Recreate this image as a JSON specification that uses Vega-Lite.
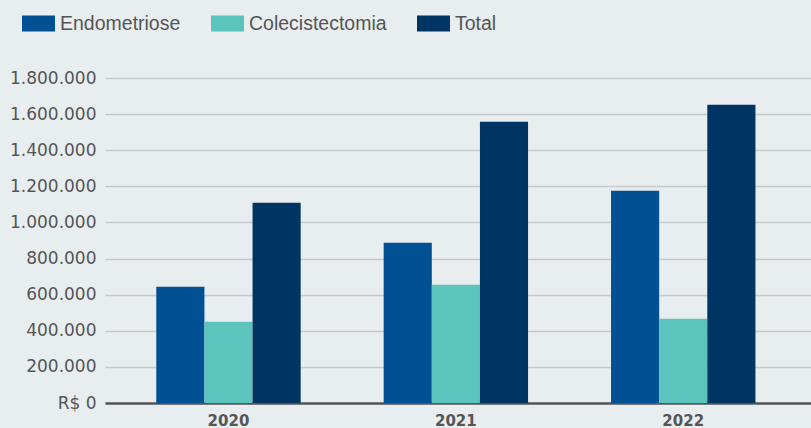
{
  "$schema": "https://vega.github.io/schema/vega-lite/v6.json",
  "width": 706,
  "height": 325,
  "autosize": "none",
  "padding": {"left": 105, "top": 78, "right": 0, "bottom": 25},
  "background": "#e8edf0",
  "config": {
    "view": {"stroke": null},
    "locale": {"number": {"decimal": ",", "thousands": ".", "grouping": [3], "currency": ["R$ ", ""]}}
  },
  "data": {
    "values": [
      {"ano": "2020", "tipo": "Endometriose", "valor": 644000},
      {"ano": "2020", "tipo": "Colecistectomia", "valor": 450000},
      {"ano": "2020", "tipo": "Total", "valor": 1109000},
      {"ano": "2021", "tipo": "Endometriose", "valor": 888000},
      {"ano": "2021", "tipo": "Colecistectomia", "valor": 655000},
      {"ano": "2021", "tipo": "Total", "valor": 1558000},
      {"ano": "2022", "tipo": "Endometriose", "valor": 1176000},
      {"ano": "2022", "tipo": "Colecistectomia", "valor": 467000},
      {"ano": "2022", "tipo": "Total", "valor": 1652000}
    ]
  },
  "mark": {"type": "bar"},
  "encoding": {
    "x": {
      "field": "ano",
      "type": "nominal",
      "title": null,
      "scale": {"paddingInner": 0.365, "paddingOuter": 0.235, "align": 0.48},
      "axis": {
        "labelAngle": 0,
        "labelFont": "DejaVu Sans",
        "labelFontSize": 15,
        "labelFontWeight": "bold",
        "labelColor": "#555555",
        "labelPadding": 10,
        "ticks": false,
        "domainColor": "#555555",
        "domainWidth": 2.5,
        "grid": false
      }
    },
    "xOffset": {
      "field": "tipo",
      "type": "nominal",
      "sort": ["Endometriose", "Colecistectomia", "Total"],
      "scale": {"paddingInner": 0, "paddingOuter": 0}
    },
    "y": {
      "field": "valor",
      "type": "quantitative",
      "title": null,
      "scale": {"domain": [0, 1800000], "nice": false},
      "axis": {
        "values": [0, 200000, 400000, 600000, 800000, 1000000, 1200000, 1400000, 1600000, 1800000],
        "labelExpr": "datum.value == 0 ? 'R$ 0' : format(datum.value, ',d')",
        "labelFont": "DejaVu Sans",
        "labelFontSize": 17,
        "labelColor": "#555555",
        "labelPadding": 9,
        "ticks": false,
        "domain": false,
        "gridColor": "#c6c9cc",
        "gridWidth": 1.5
      }
    },
    "color": {
      "field": "tipo",
      "type": "nominal",
      "sort": ["Endometriose", "Colecistectomia", "Total"],
      "scale": {"domain": ["Endometriose", "Colecistectomia", "Total"], "range": ["#005093", "#5bc4bd", "#003462"]},
      "legend": {
        "title": null,
        "orient": "none",
        "direction": "horizontal",
        "legendX": -83,
        "legendY": -71,
        "padding": 0,
        "symbolType": "M-1,-0.485H1V0.485H-1Z",
        "symbolSize": 1089,
        "symbolStrokeWidth": 0,
        "symbolOpacity": 1,
        "labelFont": "Liberation Sans",
        "labelFontSize": 19.5,
        "labelColor": "#555555",
        "labelOffset": 5,
        "columnPadding": 30
      }
    }
  }
}
